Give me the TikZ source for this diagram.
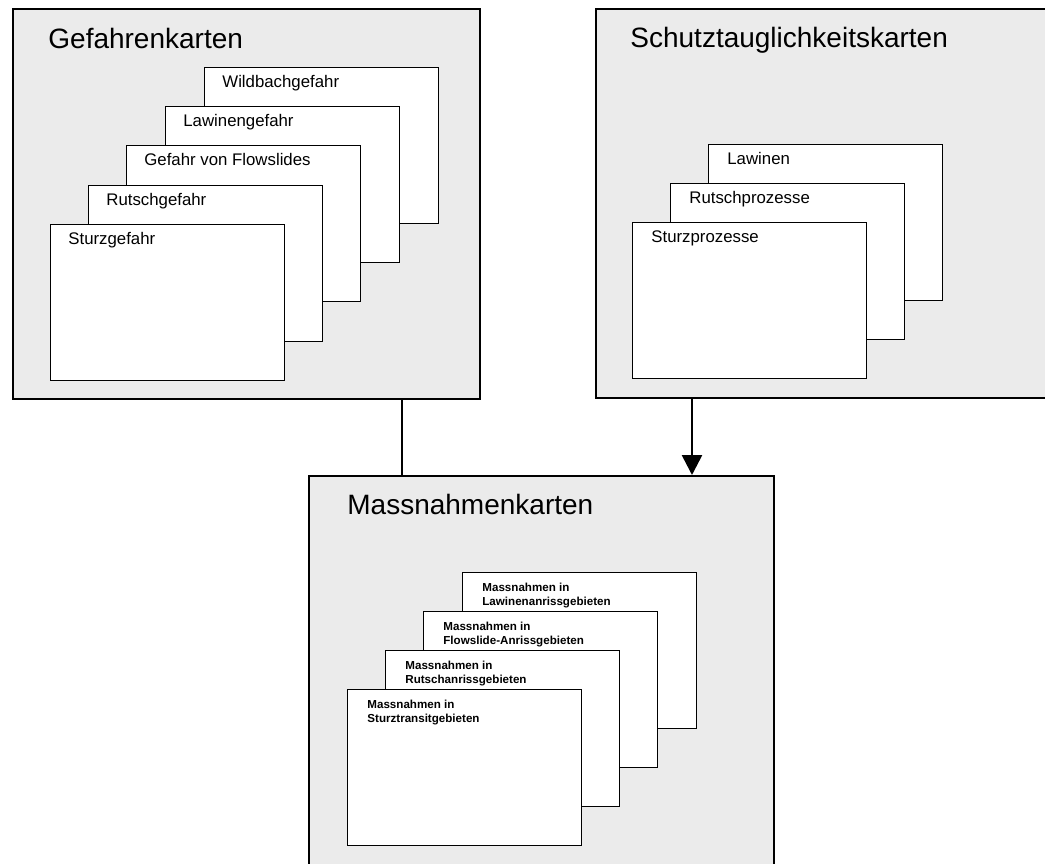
\documentclass[tikz,border=0pt]{standalone}
\usepackage{fontspec}
\setmainfont{Liberation Sans}
\usetikzlibrary{arrows.meta}
\begin{document}
\begin{tikzpicture}[x=0.5pt,y=-0.5pt,
  mapbox/.style={draw, line width=1.2pt, fill=black!8, anchor=north west, inner sep=0pt},
  card/.style={draw, line width=0.6pt, fill=white, anchor=north west, minimum width=117pt, minimum height=78pt, inner sep=0pt},
  maptitle/.style={anchor=base west, inner sep=0pt, font=\fontsize{14}{16}\selectfont},
  cardlabel/.style={anchor=base west, inner sep=0pt, font=\fontsize{8.4}{10}\selectfont},
  smalllabel/.style={anchor=north west, align=left, inner sep=0pt, font=\bfseries\fontsize{5.8}{7}\selectfont},
  link/.style={line width=1.3pt}]
\useasboundingbox (0,0) rectangle (1045,863);
\clip (0,0) rectangle (1045,863);

% Three map groups
\node[mapbox, minimum width=233.5pt, minimum height=195pt] (gef) at (12,8) {};
\node[mapbox, minimum width=240pt, minimum height=194.5pt] (schutz) at (595,8) {};
\node[mapbox, minimum width=232.5pt, minimum height=212pt] (mass) at (308,475) {};

\node[maptitle] (gef-t) at ([xshift=18pt,yshift=-20pt]gef.north west) {Gefahrenkarten};
\node[maptitle] (schutz-t) at ([xshift=17.5pt,yshift=-19.5pt]schutz.north west) {Schutztauglichkeitskarten};
\node[maptitle] (mass-t) at ([xshift=19.5pt,yshift=-19.5pt]mass.north west) {Massnahmenkarten};

% Hazard cards (back to front)
\foreach \x/\y/\name/\txt in {204/67/g5/Wildbachgefahr,165/106/g4/Lawinengefahr,126/145/g3/Gefahr von Flowslides,88/185/g2/Rutschgefahr,50/224/g1/Sturzgefahr} {
  \node[card] (\name) at (\x,\y) {};
  \node[cardlabel] (\name-t) at ([xshift=9pt,yshift=-10pt]\name.north west) {\txt};
}

% Suitability cards
\foreach \x/\y/\name/\txt in {708/144/s3/Lawinen,670/183/s2/Rutschprozesse,632/222/s1/Sturzprozesse} {
  \node[card] (\name) at (\x,\y) {};
  \node[cardlabel] (\name-t) at ([xshift=9.5pt,yshift=-10pt]\name.north west) {\txt};
}

% Measure cards
\foreach \x/\y/\name/\txt in {462/572/m4/{Massnahmen in\\Lawinenanrissgebieten},423/611/m3/{Massnahmen in\\Flowslide-Anrissgebieten},385/650/m2/{Massnahmen in\\Rutschanrissgebieten},347/689/m1/{Massnahmen in\\Sturztransitgebieten}} {
  \node[card] (\name) at (\x,\y) {};
  \node[smalllabel] (\name-t) at ([xshift=10pt,yshift=-5.3pt]\name.north west) {\txt};
}

% Connectors
\draw[link] (gef.south -| 402,0) -- (mass.north -| 402,0);
\draw[link,-{Triangle[width=10pt,length=10pt]}] (schutz.south -| 692,0) -- (mass.north -| 692,0);
\end{tikzpicture}
\end{document}
